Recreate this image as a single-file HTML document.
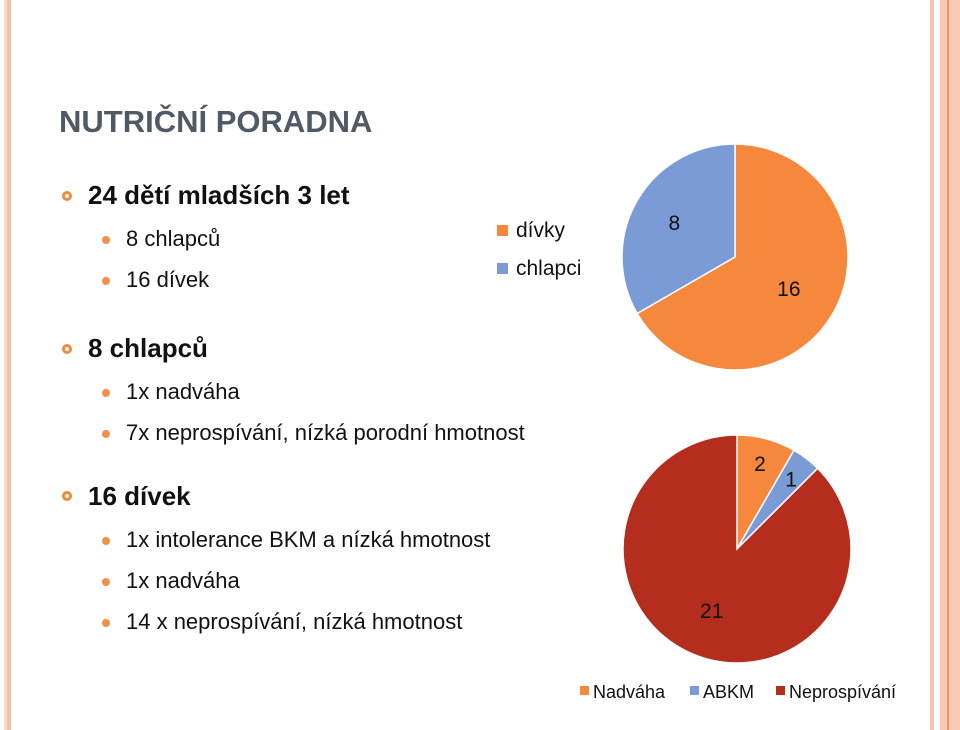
<!DOCTYPE html>
<html><head><meta charset="utf-8"><style>
body{margin:0;width:960px;height:730px;background:#fff;position:relative;overflow:hidden;font-family:"Liberation Sans",sans-serif}
.t{position:absolute;font-family:"Liberation Sans",sans-serif;white-space:nowrap;color:#111}
.b1{position:absolute;width:10px;height:10px;border:3px solid #f08a3a;border-radius:50%;box-sizing:border-box}
.b2{position:absolute;width:8px;height:8px;background:#f0904a;border-radius:50%}
</style></head><body>
<div style="position:absolute;left:4px;top:0;width:3px;height:730px;background:#f9d9c8"></div>
<div style="position:absolute;left:7px;top:0;width:4px;height:730px;background:#f6bfa6"></div>
<div style="position:absolute;left:930px;top:0;width:4px;height:730px;background:#f6c4ac"></div>
<div style="position:absolute;left:940px;top:0;width:20px;height:730px;background:#f9c9b2"></div>
<div style="position:absolute;left:947px;top:0;width:2px;height:730px;background:#e8956a"></div>

<div class="t" style="left:59px;top:104px;font-size:31px;font-weight:bold;color:#4f5a66">NUTRIČNÍ PORADNA</div>

<div class="b1" style="left:62px;top:191px"></div>
<div class="t" style="left:88px;top:180px;font-size:26px;font-weight:bold">24 dětí mladších 3 let</div>
<div class="b2" style="left:102px;top:236px"></div>
<div class="t" style="left:126px;top:226px;font-size:22px">8 chlapců</div>
<div class="b2" style="left:102px;top:277px"></div>
<div class="t" style="left:126px;top:267px;font-size:22px">16 dívek</div>

<div class="b1" style="left:62px;top:344px"></div>
<div class="t" style="left:88px;top:333px;font-size:26px;font-weight:bold">8 chlapců</div>
<div class="b2" style="left:102px;top:389px"></div>
<div class="t" style="left:126px;top:379px;font-size:22px">1x nadváha</div>
<div class="b2" style="left:102px;top:430px"></div>
<div class="t" style="left:126px;top:420px;font-size:22px">7x neprospívání, nízká porodní hmotnost</div>

<div class="b1" style="left:62px;top:491px"></div>
<div class="t" style="left:88px;top:481px;font-size:26px;font-weight:bold">16 dívek</div>
<div class="b2" style="left:102px;top:537px"></div>
<div class="t" style="left:126px;top:527px;font-size:22px">1x intolerance BKM a nízká hmotnost</div>
<div class="b2" style="left:102px;top:578px"></div>
<div class="t" style="left:126px;top:568px;font-size:22px">1x nadváha</div>
<div class="b2" style="left:102px;top:619px"></div>
<div class="t" style="left:126px;top:609px;font-size:22px">14 x neprospívání, nízká hmotnost</div>

<svg id="charts" width="960" height="730" style="position:absolute;left:0;top:0" font-family="Liberation Sans, sans-serif"></svg>
<script>
const pie1Labels=["dívky","chlapci"];
const pie1Values=[16,8];
const pie2Labels=["Nadváha","ABKM","Neprospívání"];
const pie2Values=[2,1,21];
const NS="http://www.w3.org/2000/svg";
const svg=document.getElementById("charts");
function mk(t,a){const e=document.createElementNS(NS,t);for(const k in a)e.setAttribute(k,a[k]);svg.appendChild(e);return e;}
function pt(cx,cy,r,f){const a=f*2*Math.PI;return [cx+r*Math.sin(a),cy-r*Math.cos(a)];}
function drawPie(cx,cy,r,vals,labels,colors,labelPos,name){
  const tot=vals.reduce((a,b)=>a+b,0);let acc=0;
  vals.forEach((v,i)=>{
    const f0=acc/tot,f1=(acc+v)/tot;acc+=v;
    const p0=pt(cx,cy,r,f0),p1=pt(cx,cy,r,f1);
    const large=(f1-f0)>0.5?1:0;
    const p=mk("path",{d:`M${cx},${cy}L${p0[0]},${p0[1]}A${r},${r} 0 ${large} 1 ${p1[0]},${p1[1]}Z`,fill:colors[i],stroke:"#fff","stroke-width":1.5});
    
    
    const m=(f0+f1)/2;const lp=pt(cx,cy,r*labelPos[i],m);
    const t=mk("text",{x:lp[0],y:lp[1]+8,"font-size":21,"text-anchor":"middle",fill:"#111"});
    t.textContent=v;
    
    
  });
}
drawPie(735,257,113,pie1Values,pie1Labels,["#f5883c","#7b9bd6"],[0.55,0.62],"gender-pie");
drawPie(737,549,114,pie2Values,pie2Labels,["#f5883c","#7b9bd6","#b52d1c"],[0.78,0.78,0.58],"diagnosis-pie");
// legend 1
const lc1=["#f5883c","#7b9bd6"];
pie1Labels.forEach((l,i)=>{
  const r=mk("rect",{x:497,y:225+i*38,width:11,height:11,fill:lc1[i]});
  
  
  const t=mk("text",{x:516,y:237+i*38,"font-size":21,fill:"#111"});t.textContent=l;
  
  
});
// legend 2
const lc2=["#f5883c","#7b9bd6","#b52d1c"];const lx=[580,690,776];
pie2Labels.forEach((l,i)=>{
  const r=mk("rect",{x:lx[i],y:686,width:9,height:9,fill:lc2[i]});
  
  
  const t=mk("text",{x:lx[i]+13,y:698,"font-size":18,fill:"#111"});t.textContent=l;
  
  
});
</script>
</body></html>
